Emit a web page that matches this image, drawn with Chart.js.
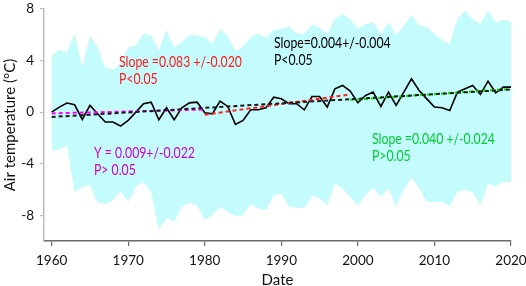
<!DOCTYPE html>
<html><head><meta charset="utf-8">
<script src="https://cdn.jsdelivr.net/npm/chart.js@4"></script>
<style>html,body{margin:0;padding:0;background:#fff;}canvas{display:block}</style>
</head><body>
<canvas id="c" width="526" height="286"></canvas>
<script>
const years = [1960,1961,1962,1963,1964,1965,1966,1967,1968,1969,1970,1971,1972,1973,1974,1975,1976,1977,1978,1979,1980,1981,1982,1983,1984,1985,1986,1987,1988,1989,1990,1991,1992,1993,1994,1995,1996,1997,1998,1999,2000,2001,2002,2003,2004,2005,2006,2007,2008,2009,2010,2011,2012,2013,2014,2015,2016,2017,2018,2019,2020];
const temperature = [0.00,0.39,0.70,0.57,-0.57,0.52,-0.13,-0.77,-0.77,-1.08,-0.64,0.00,0.65,0.77,-0.59,0.34,-0.59,0.34,0.72,0.77,-0.05,-0.13,0.85,0.44,-0.95,-0.64,0.18,0.18,0.34,1.16,1.03,0.65,0.65,0.18,1.21,1.21,0.39,1.81,2.07,1.63,0.72,1.29,1.55,0.44,1.55,0.52,1.55,2.58,1.68,1.03,0.39,0.34,0.13,1.55,1.81,2.07,1.37,2.40,1.50,1.94,1.94];
const bandUpper = [4.39,4.83,4.64,6.07,3.48,5.94,5.03,3.48,3.28,3.74,5.03,5.16,6.12,5.94,4.78,6.37,5.03,5.42,6.01,5.94,5.80,5.29,6.45,5.86,4.72,5.09,5.76,6.12,5.76,6.37,6.45,6.63,6.12,6.07,6.79,6.53,6.07,7.23,7.61,7.23,6.45,6.84,6.97,6.07,6.97,5.99,6.71,7.56,6.71,6.63,6.07,5.60,5.29,7.23,7.87,7.23,6.84,7.87,6.97,7.16,7.07];
const bandLower = [-3.02,-2.91,-2.58,-6.19,-5.80,-5.67,-7.04,-7.14,-6.83,-6.14,-6.97,-5.80,-5.42,-6.19,-9.16,-8.17,-8.51,-7.35,-7.04,-7.22,-8.33,-8.00,-7.35,-7.74,-8.07,-8.00,-7.09,-7.48,-7.61,-6.45,-6.32,-7.35,-7.40,-7.48,-6.45,-6.71,-7.22,-5.54,-5.93,-6.58,-7.22,-6.45,-5.85,-6.58,-5.93,-7.30,-6.06,-5.08,-5.93,-6.97,-6.97,-6.97,-7.30,-6.14,-6.06,-6.19,-7.22,-5.54,-5.75,-5.42,-5.42];
const trendAllX = [1960, 2020],   trendAllY = [-0.38, 1.75];
const trend1X = [1960, 1980],     trend1Y = [-0.10, 0.20];
const trend2X = [1980, 1999],     trend2Y = [-0.20, 1.37];
const trend3X = [1999, 2020],     trend3Y = [0.95, 1.80];
const xTicks = [1960, 1970, 1980, 1990, 2000, 2010, 2020];
const yTicks = [-8, -4, 0, 4, 8];
const annotations = [
  {lines: ['Slope =0.083 +/-0.020', 'P<0.05'], color: '#ff1a1a', x: 119, y: 62},
  {lines: ['Slope=0.004+/-0.004', 'P<0.05'], color: '#000000', x: 274, y: 43},
  {lines: ['Y = 0.009+/-0.022', 'P> 0.05'], color: '#cc00cc', x: 94, y: 153},
  {lines: ['Slope =0.040 +/-0.024', 'P>0.05'], color: '#00cc33', x: 372, y: 139}
];

const pts = (xs, ys) => xs.map((x, i) => ({x: x, y: ys[i]}));
const FONT = 'Lato, "Open Sans", sans-serif';

const textPlugin = {
  id: 'texts',
  afterDraw(chart) {
    const ctx = chart.ctx;
    ctx.font = '14.5px ' + FONT;
    ctx.textBaseline = 'middle';
    ctx.textAlign = 'left';
    annotations.forEach(a => {
      ctx.fillStyle = a.color;
      a.lines.forEach((t, i) => {
        ctx.save();
        ctx.translate(a.x, a.y + i * 17.5);
        ctx.scale(0.845, 1);
        ctx.fillText(t, 0, 0);
        ctx.restore();
      });
    });
  }
};

const noPad = s => { s.paddingLeft = 0; s.paddingRight = 0; s.paddingTop = 0; s.paddingBottom = 0; };

const trendDs = (xs, ys, color) => ({
  type: 'line', data: pts(xs, ys), borderColor: color, borderWidth: 2,
  borderDash: [4, 3], pointRadius: 0, fill: false, order: 1, tension: 0
});

new Chart(document.getElementById('c'), {
  type: 'line',
  data: {
    datasets: [
      {data: pts(years, bandUpper), borderWidth: 0, borderColor: 'rgba(0,0,0,0)', backgroundColor: '#c4fbfc', pointRadius: 0, fill: '+1', order: 10, tension: 0},
      {data: pts(years, bandLower), borderWidth: 0, borderColor: 'rgba(0,0,0,0)', backgroundColor: '#c4fbfc', pointRadius: 0, fill: false, order: 10, tension: 0},
      {data: pts(years, temperature), borderColor: '#000000', borderWidth: 1.6, pointRadius: 0, fill: false, order: 2, tension: 0},
      trendDs(trendAllX, trendAllY, '#1a1a1a'),
      trendDs(trend1X, trend1Y, '#ff00ff'),
      trendDs(trend2X, trend2Y, '#ff2020'),
      trendDs(trend3X, trend3Y, '#00dd00')
    ]
  },
  options: {
    responsive: false,
    animation: false,
    devicePixelRatio: 1,
    layout: {padding: {top: 9, right: 15, left: 0, bottom: 0}},
    plugins: {legend: {display: false}, tooltip: {enabled: false}},
    scales: {
      x: {
        type: 'linear', min: 1959, max: 2020,
        afterBuildTicks: s => { s.ticks = xTicks.map(v => ({value: v})); },
        afterFit: s => { s.height = 45; noPad(s); },
        grid: {drawOnChartArea: false, drawTicks: true, tickLength: 5, color: '#6b6b6b', lineWidth: 1.2},
        border: {display: true, color: '#6b6b6b', width: 1.5},
        ticks: {color: '#111', font: {family: FONT, size: 13.5}, padding: 7, maxRotation: 0, autoSkip: false, callback: v => String(v)},
        title: {display: true, text: 'Date', color: '#111', font: {family: FONT, size: 15, lineHeight: 0.8}, padding: {top: 0, bottom: 0}}
      },
      y: {
        min: -10, max: 8,
        afterBuildTicks: s => { s.ticks = yTicks.map(v => ({value: v})); },
        afterFit: s => { s.width = 44; noPad(s); },
        grid: {drawOnChartArea: false, drawTicks: true, tickLength: 4, color: '#bdbdbd', lineWidth: 1.2},
        border: {display: true, color: '#bdbdbd', width: 1.5},
        ticks: {color: '#111', font: {family: FONT, size: 13.5}, padding: 6, callback: v => String(v)},
        title: {display: true, text: 'Air temperature (\u00B0C)', color: '#111', font: {family: FONT, size: 15, lineHeight: 1}, padding: {top: 3, bottom: 0}}
      }
    }
  },
  plugins: [textPlugin]
});
</script>
</body></html>
